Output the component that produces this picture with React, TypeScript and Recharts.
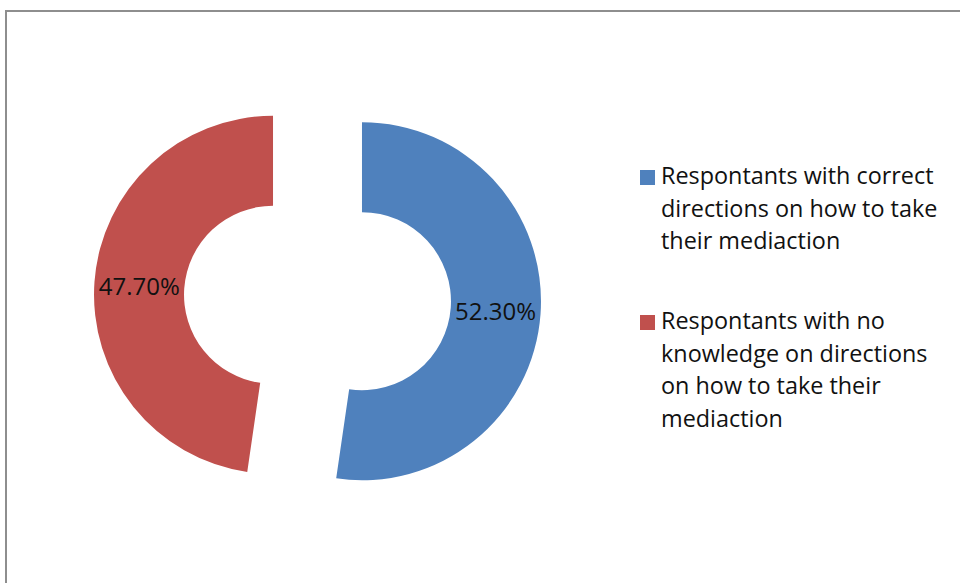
import React from 'react';
import { PieChart, Pie, Cell, Sector, Legend } from 'recharts';

const categories = [
  'Respontants with correct directions on how to take their mediaction',
  'Respontants with no knowledge on directions on how to take their mediaction',
];
const shares = [52.3, 47.7];
const legendLines = [
  ['Respontants with correct', 'directions on how to take', 'their mediaction'],
  ['Respontants with no', 'knowledge on directions', 'on how to take their', 'mediaction'],
];
const colors = ['#4F81BD', '#C0504D'];

const data = categories.map((name, i) => ({ name, value: shares[i] }));

const EXPLODE = 44.6;
const RAD = Math.PI / 180;
const FONT = '"Open Sans", "Noto Sans", sans-serif';

// pull each slice away from the centre along its mid angle
const shift = (cx: number, cy: number, midAngle: number) => ({
  x: cx + EXPLODE * Math.cos(midAngle * RAD),
  y: cy - EXPLODE * Math.sin(midAngle * RAD),
});

const ExplodedSlice = (props: any) => {
  const p = shift(props.cx, props.cy, props.midAngle);
  return <Sector {...props} cx={p.x} cy={p.y} stroke="none" />;
};

const renderLabel = (props: any) => {
  const { cx, cy, midAngle, innerRadius, outerRadius, index } = props;
  const c = shift(cx, cy, midAngle);
  const r = (innerRadius + outerRadius) / 2;
  const x = c.x + r * Math.cos(midAngle * RAD);
  const y = c.y - r * Math.sin(midAngle * RAD);
  return (
    <text x={x} y={y} textAnchor="middle" dominantBaseline="central" fill="#111" fontSize={24} fontFamily={FONT}>
      {shares[index].toFixed(2)}%
    </text>
  );
};

const LegendBox = () => (
  <div style={{ fontFamily: FONT, fontSize: 23.4, lineHeight: '32.5px', color: '#111' }}>
    {legendLines.map((lines, i) => (
      <div key={i} style={{ position: 'relative', paddingLeft: 21, marginBottom: 47.5 }}>
        <span style={{ position: 'absolute', left: 0, top: 11, width: 15, height: 15, background: colors[i] }} />
        {lines.map((l, j) => (
          <div key={j} style={{ whiteSpace: 'nowrap' }}>{l}</div>
        ))}
      </div>
    ))}
  </div>
);

export default function App() {
  return (
    <div style={{ position: 'fixed', left: 0, top: 0, width: 960, height: 583, overflow: 'hidden', background: '#fff' }}>
      {/* chart frame: only its top and left edges fall inside the picture */}
      <div style={{ position: 'absolute', left: 5, top: 10, width: 955, height: 2, background: '#8e8e8e' }} />
      <div style={{ position: 'absolute', left: 5, top: 10, width: 2, height: 573, background: '#8e8e8e' }} />
      <PieChart width={960} height={583} margin={{ top: 0, right: 0, bottom: 0, left: 0 }} style={{ position: 'absolute', left: 0, top: 0 }}>
        <Pie
          data={data}
          dataKey="value"
          nameKey="name"
          cx={317.5}
          cy={298}
          innerRadius={89}
          outerRadius={179}
          startAngle={90}
          endAngle={-270}
          shape={ExplodedSlice}
          label={renderLabel}
          labelLine={false}
          isAnimationActive={false}
        >
          {data.map((d, i) => (
            <Cell key={d.name} fill={colors[i]} />
          ))}
        </Pie>
        <Legend
          content={<LegendBox />}
          wrapperStyle={{ position: 'absolute', left: 640, top: 159, width: 310 }}
        />
      </PieChart>
    </div>
  );
}
